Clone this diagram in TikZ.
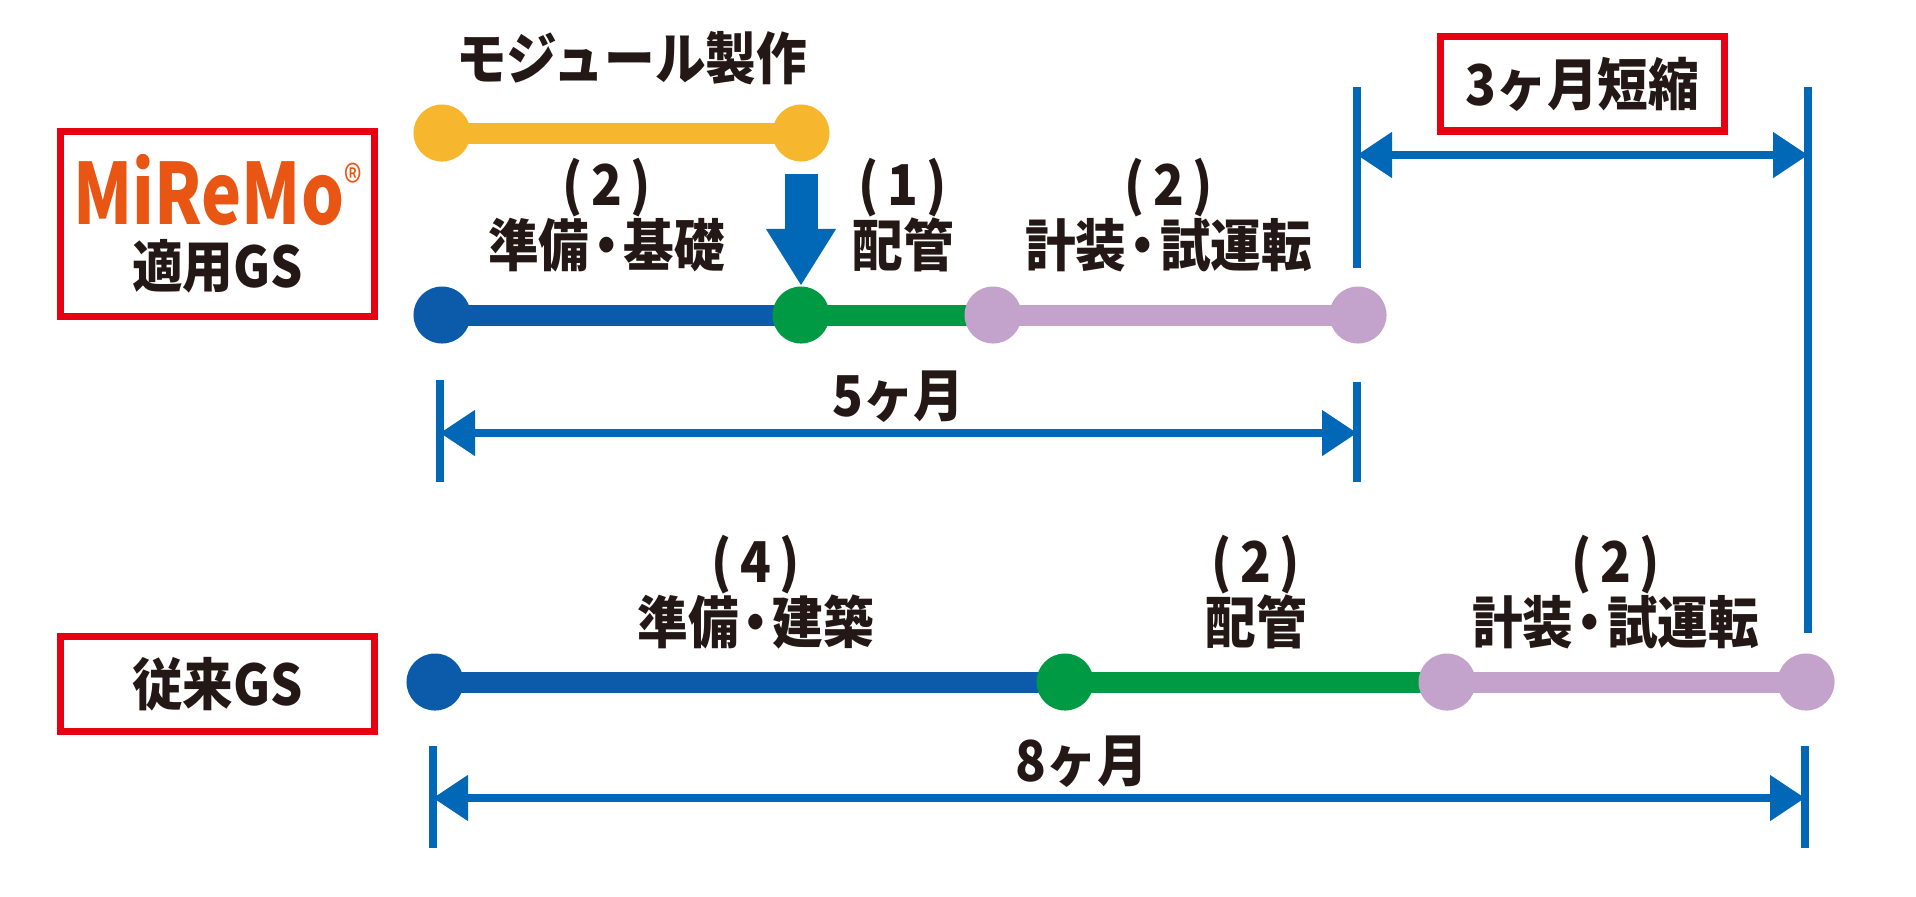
\documentclass[tikz,border=0pt]{standalone}
\usepackage{fontspec}
\setmainfont{Noto Sans CJK JP}[FakeStretch=0.9]
\newfontfamily\logofont{Noto Sans CJK JP}[FakeStretch=0.8]
\usetikzlibrary{arrows.meta,backgrounds}

\definecolor{barblue}{HTML}{0B5BAA}
\definecolor{dimblue}{HTML}{0068B7}
\definecolor{bargreen}{HTML}{009A44}
\definecolor{barpurple}{HTML}{C3A2CC}
\definecolor{baryellow}{HTML}{F6B72F}
\definecolor{boxred}{HTML}{E60012}
\definecolor{logoorange}{HTML}{E95513}
\definecolor{ink}{HTML}{231815}

\tikzstyle{dot}=[circle,minimum size=0.57cm,inner sep=0pt]
\tikzstyle{bar}=[draw,line width=0.21cm]
\tikzstyle{phase}=[font=\fontsize{16pt}{17.5pt}\selectfont\bfseries,text=ink,align=center]
\tikzstyle{dimtick}=[draw=dimblue,line width=0.08cm]
\tikzstyle{dimline}=[draw=dimblue,line width=0.08cm,<->]
\tikzstyle{dimlabel}=[font=\fontsize{16pt}{17.5pt}\selectfont\bfseries,text=ink,yshift=0.36cm]
\tikzstyle{redbox}=[draw=boxred,line width=0.07cm,inner sep=0pt,text=ink,align=center,
                    font=\fontsize{16pt}{20pt}\selectfont\bfseries]
\newcommand{\pxunit}{0.01cm}
\newcommand{\dotsep}{\kern-0.15em・\kern-0.15em}
\newcommand{\months}[1]{(\hspace{0.15em}#1\hspace{0.15em})}

\begin{document}
\begin{tikzpicture}[x=\pxunit, y=-\pxunit, >={Triangle[length=0.35cm,width=0.44cm]}]
    \useasboundingbox (0,0) rectangle (1916,896);
    % First we draw the dots
    \foreach \pos/\name/\col in {{(442,133)/m1/baryellow}, {(801,133)/m2/baryellow},
        {(442,315)/a1/barblue}, {(801,315)/b1/bargreen}, {(993,315)/c1/barpurple}, {(1358,315)/d1/barpurple},
        {(435,682)/a2/barblue}, {(1065,682)/b2/bargreen}, {(1447,682)/c2/barpurple}, {(1806,682)/d2/barpurple}}
        \node[dot,fill=\col] (\name) at \pos {};
    % Connect dots with bars and write the phases
    \begin{scope}[on background layer]
    \path[bar,draw=baryellow] (m1.center) -- node[phase,yshift=0.75cm,xshift=0.1cm] {モジュール製作} (m2.center);
    \foreach \source/\dest/\col/\dx/\dy/\phase in {a1/b1/barblue/-0.15/1.0/{\months{2}\\準備\dotsep 基礎},
        b1/c1/bargreen/0.06/1.0/{\months{1}\\配管},
        c1/d1/barpurple/-0.07/1.0/{\months{2}\\計装\dotsep 試運転},
        a2/b2/barblue/0.06/0.9/{\months{4}\\準備\dotsep 建築},
        b2/c2/bargreen/0/0.9/{\months{2}\\配管},
        c2/d2/barpurple/-0.11/0.9/{\months{2}\\計装\dotsep 試運転}}
        \path[bar,draw=\col] (\source.center) -- node[phase,xshift=\dx cm,yshift=\dy cm] {\phase} (\dest.center);
    \end{scope}
    % module goes into the line
    \draw[dimblue,line width=0.33cm,-{Triangle[length=0.57cm,width=0.66cm]},shorten <=0.12cm] (m2) -- (b1);

    % labels on the left
    \node[redbox,minimum width=3.13cm,minimum height=1.84cm] (miremo) at (217.5,224)
        {{\color{logoorange}\logofont\fontsize{24pt}{20pt}\selectfont MiReMo\raisebox{0.3em}{\fontsize{13pt}{13pt}\selectfont\mdseries ®}}\\[-2pt]適用GS};
    \node[redbox,minimum width=3.13cm,minimum height=0.94cm] (conv) at (217.5,684) {従来GS};

    % spans
    \coordinate (s5l) at (440,433);
    \coordinate (s5r) at (1357,433);
    \coordinate (s3l) at (1357,155);
    \coordinate (s3r) at (1808,155);
    \coordinate (s8l) at (433,798);
    \coordinate (s8r) at (1805,798);
    \foreach \name/\up/\len in {s5l/53/102, s5r/51/100, s3l/68/181, s3r/68/546, s8l/52/102, s8r/52/102}
        \draw[dimtick] (\name) ++(0,-\up) -- ++(0,\len);
    \draw[dimline] (s5l) -- node[dimlabel] {5ヶ月} (s5r);
    \draw[dimline] (s8l) -- node[dimlabel,pos=0.473] {8ヶ月} (s8r);
    \draw[dimline] (s3l) -- node[redbox,yshift=0.71cm,minimum width=2.83cm,minimum height=0.94cm] (short) {3ヶ月短縮} (s3r);
\end{tikzpicture}
\end{document}
